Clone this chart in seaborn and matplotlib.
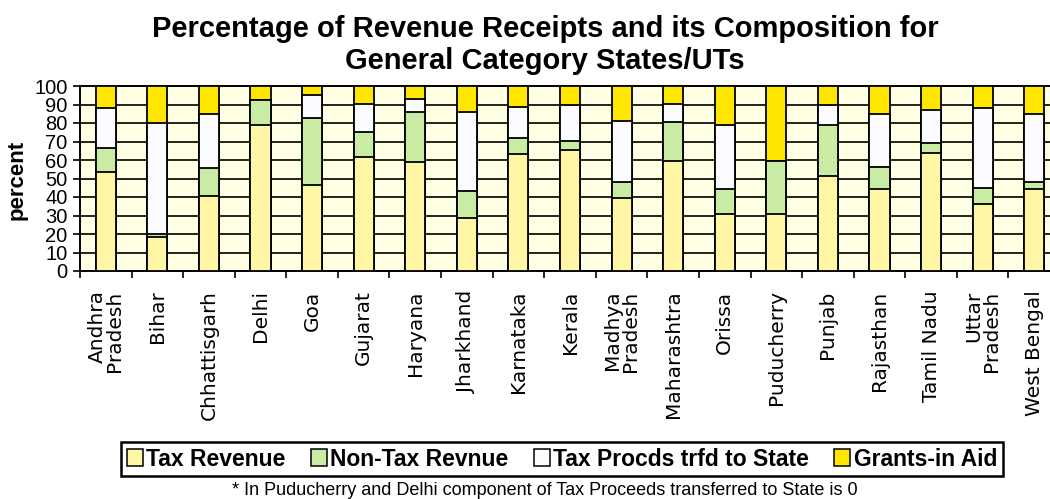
import numpy as np
import pandas as pd
import matplotlib
matplotlib.use("Agg")
import matplotlib.pyplot as plt
from matplotlib.patches import Patch
import seaborn as sns

states = ["Andhra\nPradesh", "Bihar", "Chhattisgarh", "Delhi", "Goa", "Gujarat",
          "Haryana", "Jharkhand", "Karnataka", "Kerala", "Madhya\nPradesh",
          "Maharashtra", "Orissa", "Puducherry", "Punjab", "Rajasthan",
          "Tamil Nadu", "Uttar\nPradesh", "West Bengal"]
tax_revenue = [53.7, 18.2, 40.5, 78.9, 46.7, 61.6, 58.7, 28.8, 63.4, 65.6, 39.3,
               59.5, 30.8, 30.8, 51.2, 44.1, 63.6, 36.2, 44.1]
non_tax_revenue = [13.0, 1.6, 15.0, 13.5, 36.2, 13.3, 27.1, 14.4, 8.3, 4.7, 9.0,
                   21.2, 13.5, 28.7, 27.7, 12.3, 5.4, 8.8, 3.8]
tax_proceeds = [21.4, 60.4, 29.5, 0.0, 12.2, 15.2, 7.2, 42.6, 17.1, 19.4, 32.8,
                9.8, 34.6, 0.0, 10.8, 28.3, 18.0, 42.9, 37.0]
grants_in_aid = [11.9, 19.8, 15.0, 7.6, 4.9, 9.9, 7.0, 14.2, 11.2, 10.3, 18.9,
                 9.5, 21.1, 40.5, 10.3, 15.3, 13.0, 12.1, 15.1]
series_names = ["Tax Revenue", "Non-Tax Revnue", "Tax Procds trfd to State", "Grants-in Aid"]
yticks = list(range(0, 101, 10))

colors = ["#FFF7A6", "#C9EBA3", "#FBFCFF", "#FFE600"]
bg = "#FFFFE3"

df = pd.DataFrame({"state": states, "tax": tax_revenue, "nontax": non_tax_revenue,
                   "procds": tax_proceeds, "grants": grants_in_aid})
df["c1"] = df["tax"]
df["c2"] = df["c1"] + df["nontax"]
df["c3"] = df["c2"] + df["procds"]
df["c4"] = df["c3"] + df["grants"]

fig = plt.figure(figsize=(10.5, 4.99), dpi=100)
ax = fig.add_axes([80 / 1050, 1 - 271 / 499, 980 / 1050, 185 / 499])
ax.set_facecolor(bg)

for col, c in zip(["c4", "c3", "c2", "c1"], colors[::-1]):
    sns.barplot(data=df, x="state", y=col, color=c, width=0.39, saturation=1,
                edgecolor="black", linewidth=1.3, errorbar=None, ax=ax, zorder=3)

ax.set_xlim(-0.5, len(states) - 0.5)
ax.set_ylim(0, 100)
ax.set_yticks(yticks)
ax.set_yticklabels([str(v) for v in yticks], fontsize=14.5, family="Liberation Sans")
ax.tick_params(axis="y", direction="out", length=5, width=1.2, pad=4)
ax.yaxis.grid(True, color="#111111", linewidth=1.3, zorder=0)
ax.set_axisbelow(True)

ax.set_xticks(np.arange(-0.5, len(states), 1.0))
ax.set_xticklabels([])
ax.tick_params(axis="x", which="major", direction="out", length=5, width=1.2)
ax.set_xticks(np.arange(len(states)), minor=True)
ax.set_xticklabels(states, minor=True, rotation=90, fontsize=14.5,
                   family="DejaVu Sans", linespacing=0.9, multialignment="right")
ax.tick_params(axis="x", which="minor", length=0, pad=14)
ax.set_xlabel("")
ax.set_ylabel("")
for s in ax.spines.values():
    s.set_color("black")
    s.set_linewidth(1.4)

fig.text(17 / 1050, 1 - 180 / 499, "percent", rotation=90, ha="center", va="center",
         fontsize=16, fontweight="bold", family="Liberation Sans")

fig.text(545 / 1050, 1 - 37 / 499, "Percentage of Revenue Receipts and its Composition for",
         ha="center", va="baseline", fontsize=21, fontweight="bold", family="Liberation Sans")
fig.text(545 / 1050, 1 - 69 / 499, "General Category States/UTs",
         ha="center", va="baseline", fontsize=21, fontweight="bold", family="Liberation Sans")

handles = [Patch(facecolor=c, edgecolor="black", linewidth=1.1) for c in colors]
leg = fig.legend(handles, series_names, loc="center", ncol=4,
                 bbox_to_anchor=(562 / 1050, 1 - 459 / 499),
                 prop={"family": "Liberation Sans", "weight": "bold", "size": 16.5},
                 handlelength=0.7, handleheight=0.8, handletextpad=0.15,
                 columnspacing=1.1, borderpad=0.25, fancybox=False, framealpha=1,
                 edgecolor="black")
leg.get_frame().set_linewidth(1.8)

fig.text(545 / 1050, 1 - 495 / 499,
         "* In Puducherry and Delhi component of Tax Proceeds transferred to State is 0",
         ha="center", va="baseline", fontsize=13, family="Liberation Sans")

fig.savefig("out.png", dpi=100)
